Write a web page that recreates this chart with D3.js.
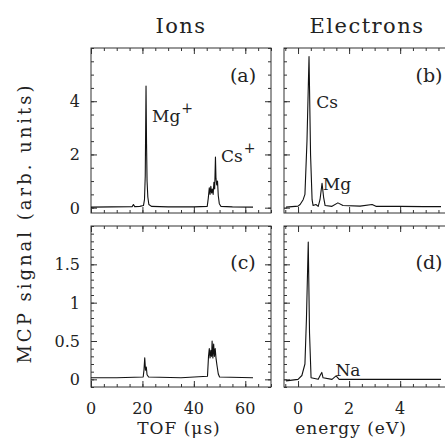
<!DOCTYPE html>
<html>
<head>
<meta charset="utf-8">
<script src="https://cdn.jsdelivr.net/npm/d3@7"></script>
<style>
  body { margin: 0; background: #fff; }
  svg text { font-family: "DejaVu Serif", serif; fill: #222; }
  .axis path { display: none; }
  .axis line { stroke: #333; }
</style>
</head>
<body>
<div id="chart"></div>
<script>
// traced curves: [x, signal]
const ionsA = [[0,0.02],[8,0.03],[16,0.04],[16.5,0.12],[17,0.04],[19,0.05],[20.4,0.08],[20.8,0.3],[21.1,1.2],[21.4,4.57],[21.6,2.4],[21.8,1.0],[22.1,0.4],[22.5,0.12],[23.5,0.05],[30,0.03],[40,0.03],[45.2,0.05],[45.6,0.35],[46,0.75],[46.3,0.5],[46.6,0.8],[46.9,0.55],[47.2,0.7],[47.5,0.5],[47.8,0.95],[48.1,0.7],[48.4,1.9],[48.6,1.1],[48.9,0.85],[49.2,1.0],[49.5,0.45],[49.9,0.15],[50.5,0.05],[55,0.03],[63,0.02]];
const ionsC = [[0,0.02],[10,0.02],[20.3,0.03],[20.6,0.12],[20.9,0.28],[21.2,0.12],[21.5,0.16],[21.8,0.06],[22.4,0.03],[35,0.02],[45.3,0.04],[45.7,0.3],[46,0.4],[46.3,0.28],[46.6,0.38],[46.9,0.3],[47.1,0.5],[47.4,0.28],[47.7,0.46],[48,0.3],[48.3,0.4],[48.6,0.28],[49,0.18],[49.5,0.07],[50,0.03],[63,0.02]];
const elecB = [[-0.47,0.02],[0,0.06],[0.08,0.12],[0.2,0.3],[0.27,0.5],[0.35,2.5],[0.43,5.68],[0.49,2.0],[0.55,0.3],[0.59,0.08],[0.7,0.12],[0.79,0.05],[0.86,0.3],[0.94,0.92],[1.0,0.4],[1.06,0.08],[1.33,0.05],[1.56,0.18],[1.76,0.08],[2.43,0.06],[2.9,0.12],[3.05,0.05],[4.0,0.05],[4.9,0.04],[5.6,0.04]];
const elecD = [[-0.47,-0.02],[0,0.0],[0.15,0.05],[0.27,0.2],[0.33,0.8],[0.4,1.79],[0.45,0.6],[0.51,0.02],[0.79,0.0],[0.88,0.06],[0.93,0.09],[0.98,0.02],[1.33,0.0],[1.49,0.045],[1.61,0.0],[3.17,0.0],[5.6,0.0]];

const tofTicks = [0, 20, 40, 60];
const energyTicks = [0, 2, 4];
const upperTicks = [0, 2, 4];
const lowerTicks = [0, 0.5, 1, 1.5];

const svg = d3.select("#chart").append("svg")
    .attr("width", 445)
    .attr("height", 441);

const xTof = d3.scaleLinear().domain([0, 70]).range([91, 271]);
const xEn = d3.scaleLinear().domain([-0.55, 6.5]).range([284, 464]);
const yUp = d3.scaleLinear().domain([-0.2, 6]).range([213, 48]);
const yLo = d3.scaleLinear().domain([-0.1, 2]).range([387, 226]);

function minorVals(domain, step) {
    const out = [];
    for (let v = Math.ceil(domain[0] / step) * step; v <= domain[1] + 1e-9; v += step) out.push(+v.toFixed(4));
    return out;
}

// frame with inward ticks on all four sides
function panel(x, y, xMinor, xMajor, yMinor, yMajor) {
    const [x0, x1] = x.range(), [y0, y1] = [y.range()[1], y.range()[0]];
    const g = svg.append("g");
    g.append("rect")
        .attr("x", x0).attr("y", y0)
        .attr("width", x1 - x0).attr("height", y1 - y0)
        .attr("fill", "none").attr("stroke", "#333").attr("stroke-width", 1);
    const xm = minorVals(x.domain(), xMinor);
    const ym = minorVals(y.domain(), yMinor);
    [[d3.axisBottom, y1], [d3.axisTop, y0]].forEach(([ax, pos]) => {
        g.append("g").attr("class", "axis").attr("transform", `translate(0,${pos})`)
            .call(ax(x).tickValues(xm).tickSize(-3).tickFormat(""));
        g.append("g").attr("class", "axis").attr("transform", `translate(0,${pos})`)
            .call(ax(x).tickValues(xMajor).tickSize(-6).tickFormat(""));
    });
    [[d3.axisLeft, x0], [d3.axisRight, x1]].forEach(([ax, pos]) => {
        g.append("g").attr("class", "axis").attr("transform", `translate(${pos},0)`)
            .call(ax(y).tickValues(ym).tickSize(-3).tickFormat(""));
        g.append("g").attr("class", "axis").attr("transform", `translate(${pos},0)`)
            .call(ax(y).tickValues(yMajor).tickSize(-6).tickFormat(""));
    });
    return g;
}

function trace(data, x, y) {
    const line = d3.line().x(d => x(d[0])).y(d => y(d[1]));
    svg.append("path")
        .attr("d", line(data))
        .attr("fill", "none")
        .attr("stroke", "#111")
        .attr("stroke-width", 1.1)
        .attr("stroke-linejoin", "round");
}

panel(xTof, yUp, 5, tofTicks, 0.5, upperTicks);
panel(xEn, yUp, 0.5, energyTicks, 0.5, upperTicks);
panel(xTof, yLo, 5, tofTicks, 0.1, lowerTicks);
panel(xEn, yLo, 0.5, energyTicks, 0.1, lowerTicks);

trace(ionsA, xTof, yUp);
trace(elecB, xEn, yUp);
trace(ionsC, xTof, yLo);
trace(elecD, xEn, yLo);

// tick labels
const tickFont = 16;
upperTicks.forEach(v => svg.append("text").attr("x", 80).attr("y", yUp(v) + 6)
    .attr("text-anchor", "end").attr("font-size", tickFont).text(v));
lowerTicks.forEach(v => svg.append("text").attr("x", 80).attr("y", yLo(v) + 6)
    .attr("text-anchor", "end").attr("font-size", tickFont).text(v));
tofTicks.forEach(v => svg.append("text").attr("x", xTof(v)).attr("y", 414)
    .attr("text-anchor", "middle").attr("font-size", tickFont).text(v));
energyTicks.forEach(v => svg.append("text").attr("x", xEn(v)).attr("y", 414)
    .attr("text-anchor", "middle").attr("font-size", tickFont).text(v));

// titles
svg.append("text").attr("x", 181).attr("y", 33).attr("text-anchor", "middle")
    .attr("font-size", 21).attr("letter-spacing", 1.5).text("Ions");
svg.append("text").attr("x", 367).attr("y", 33).attr("text-anchor", "middle")
    .attr("font-size", 21).attr("letter-spacing", 1.5).text("Electrons");
svg.append("text").attr("x", 179).attr("y", 434).attr("text-anchor", "middle")
    .attr("font-size", 17).attr("letter-spacing", 1).text("TOF (μs)");
svg.append("text").attr("x", 351).attr("y", 434).attr("text-anchor", "middle")
    .attr("font-size", 17).attr("letter-spacing", 1).text("energy (eV)");
svg.append("text").attr("transform", "translate(31,223) rotate(-90)")
    .attr("text-anchor", "middle").attr("font-size", 18).attr("letter-spacing", 3)
    .text("MCP signal (arb. units)");

// panel letters and peak labels
const notes = [
    { t: "(a)", x: 243, y: 82, s: 19 },
    { t: "(b)", x: 429, y: 82, s: 19 },
    { t: "(c)", x: 243, y: 269, s: 19 },
    { t: "(d)", x: 429, y: 269, s: 19 },
    { t: "Cs", x: 327, y: 108, s: 17 },
    { t: "Mg", x: 337, y: 190, s: 17 },
    { t: "Na", x: 348, y: 376, s: 17 }
];
notes.forEach(n => svg.append("text").attr("x", n.x).attr("y", n.y)
    .attr("text-anchor", "middle").attr("font-size", n.s).text(n.t));

const mg = svg.append("text").attr("x", 152).attr("y", 122).attr("font-size", 17);
mg.append("tspan").text("Mg");
mg.append("tspan").attr("dy", -9).attr("dx", 1).attr("font-size", 14).text("+");
const cs = svg.append("text").attr("x", 221).attr("y", 162).attr("font-size", 17);
cs.append("tspan").text("Cs");
cs.append("tspan").attr("dy", -9).attr("dx", 1).attr("font-size", 14).text("+");
</script>
</body>
</html>
